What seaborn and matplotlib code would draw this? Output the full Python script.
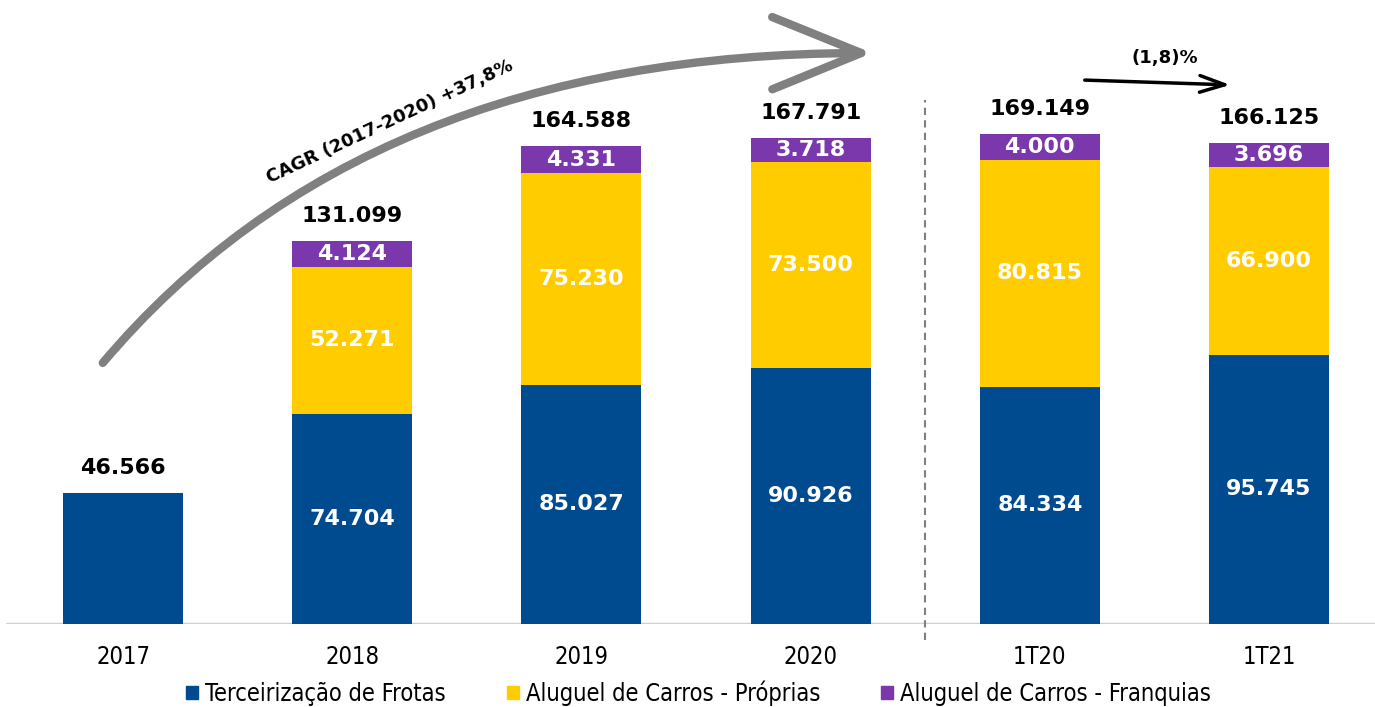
import matplotlib
matplotlib.use("Agg")
import matplotlib.pyplot as plt
import seaborn as sns
import numpy as np

periods = ["2017", "2018", "2019", "2020", "1T20", "1T21"]
terceirizacao = np.array([46566, 74704, 85027, 90926, 84334, 95745])
proprias = np.array([0, 52271, 75230, 73500, 80815, 66900])
franquias = np.array([0, 4124, 4331, 3718, 4000, 3696])
totals = [46566, 131099, 164588, 167791, 169149, 166125]
series_names = ["Terceirização de Frotas", "Aluguel de Carros - Próprias",
                "Aluguel de Carros - Franquias"]
colors = ["#004A8F", "#FFCC00", "#7B38AC"]

# the purple segments are drawn exaggerated in the original chart
franquias_vis = franquias * 2.25


def fmt(v):
    return f"{int(v):,}".replace(",", ".")


sns.set_style("white")
plt.rcParams["font.family"] = ["DejaVu Sans"]
plt.rcParams["text.color"] = "black"
plt.rcParams["xtick.color"] = "black"

fig = plt.figure(figsize=(13.75, 7.07), dpi=100)
ax = fig.add_axes([0, 83 / 707, 1, 624 / 707])

# stacked bars by overlaying cumulative heights
layer_top = terceirizacao + proprias + franquias_vis
layer_mid = terceirizacao + proprias
for h, c in [(layer_top, colors[2]), (layer_mid, colors[1]), (terceirizacao, colors[0])]:
    sns.barplot(x=periods, y=h, color=c, saturation=1, width=0.524,
                linewidth=0, ax=ax)

for i in range(len(periods)):
    if proprias[i] > 0:
        ax.text(i, terceirizacao[i] / 2, fmt(terceirizacao[i]), ha="center",
                va="center", color="white", fontsize=16, fontweight="bold")
        ax.text(i, terceirizacao[i] + proprias[i] / 2, fmt(proprias[i]), ha="center",
                va="center", color="white", fontsize=16, fontweight="bold")
    if franquias[i] > 0:
        ax.text(i, layer_mid[i] + franquias_vis[i] / 2, fmt(franquias[i]), ha="center",
                va="center", color="white", fontsize=16, fontweight="bold")
    top = layer_top[i] if franquias[i] > 0 else terceirizacao[i]
    ax.annotate(fmt(totals[i]), (i, top), xytext=(0, 18), textcoords="offset points",
                ha="center", va="center", fontsize=16, fontweight="bold")

ax.set_xlim(-0.537, 5.4625)
ax.set_ylim(0, 221900)
ax.set_yticks([])
ax.set_ylabel("")
for s in ax.spines.values():
    s.set_visible(False)
ax.axhline(0, xmin=7 / 1375, xmax=1, color="#D0D0D0", lw=2.5, zorder=0)
ax.tick_params(axis="x", length=0, pad=15)
for lab in ax.get_xticklabels():
    lab.set_fontsize(17)
    lab.set_fontstretch("condensed")

# separator between annual and quarterly figures
ax.axvline(3.5, ymin=-0.026, ymax=0.84, color="#808080", lw=1.5,
           dashes=(3.5, 2.5), clip_on=False)

# CAGR arrow
ax.annotate("", xy=(875, 707 - 53), xytext=(101, 707 - 365), xycoords="figure pixels",
            textcoords="figure pixels",
            arrowprops=dict(arrowstyle="->,head_length=3.2,head_width=1.3",
                            connectionstyle="angle3,angleA=50,angleB=0",
                            color="#808080", lw=6, mutation_scale=20))
fig.text(390 / 1375, 1 - 122 / 707, "CAGR (2017-2020) +37,8%", rotation=25,
         ha="center", va="center", fontsize=13, fontweight="bold")

# quarter arrow
ax.annotate("", xy=(1233, 707 - 85), xytext=(1082, 707 - 80), xycoords="figure pixels",
            textcoords="figure pixels",
            arrowprops=dict(arrowstyle="->,head_length=0.9,head_width=0.3",
                            color="black", lw=2.5, mutation_scale=20))
fig.text(1165 / 1375, 1 - 58 / 707, "(1,8)%", ha="center", va="center",
         fontsize=13, fontweight="bold")

handles = [plt.Rectangle((0, 0), 1, 1, color=c) for c in colors]
leg = fig.legend(handles, series_names, loc="center", ncol=3,
                 bbox_to_anchor=(0.508, 14 / 707), frameon=False,
                 handlelength=0.5, handleheight=0.5, handletextpad=0.3,
                 columnspacing=2.6, prop={"size": 17, "stretch": "condensed"})

fig.savefig("out.png", dpi=100)
